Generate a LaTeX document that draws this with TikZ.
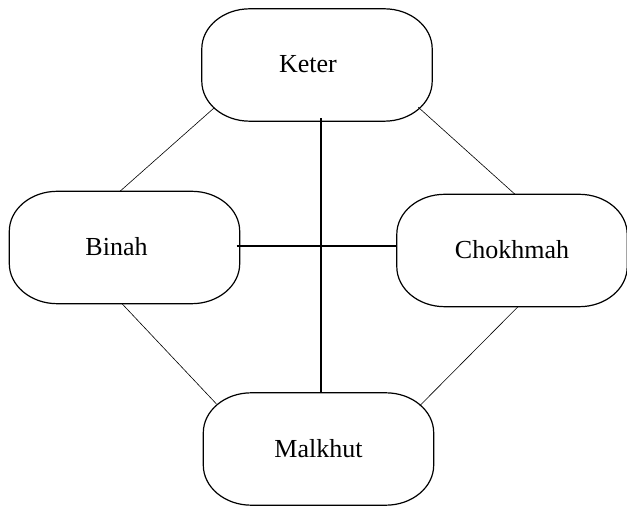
\documentclass[tikz,border=0pt]{standalone}
\usepackage{fontspec}
\setmainfont{Liberation Serif}
\usetikzlibrary{calc}
\newcommand\sefbox[1]{%
  \draw[boxline] ($(#1.north west)+(48,0)$) -- ($(#1.north east)+(-48,0)$)
    arc[start angle=90,end angle=0,x radius=48,y radius=40]
    -- ($(#1.south east)+(0,40)$)
    arc[start angle=0,end angle=-90,x radius=48,y radius=40]
    -- ($(#1.south west)+(48,0)$)
    arc[start angle=270,end angle=180,x radius=48,y radius=40]
    -- ($(#1.north west)+(0,-40)$)
    arc[start angle=180,end angle=90,x radius=48,y radius=40] -- cycle;}
\begin{document}
\begin{tikzpicture}[x=1pt,y=1pt,
  sefira/.style={minimum width=230pt, minimum height=112pt, inner sep=0pt, font=\fontsize{26}{30}\selectfont},
  boxline/.style={line width=1.2pt},
  thinlink/.style={line width=0.6pt},
  thicklink/.style={line width=2pt}]
\useasboundingbox (0,0) rectangle (627,506);
\node[sefira] (keter) at (317,441) {\hspace*{-18pt}\raisebox{3pt}{Keter}};
\node[sefira] (binah) at (124.5,258.5) {\hspace*{-16pt}\raisebox{2pt}{Binah}};
\node[sefira] (chokhmah) at (512,255.5) {\raisebox{2pt}{Chokhmah}};
\node[sefira] (malkhut) at (318.5,57) {\raisebox{-1.5pt}{Malkhut}};
\sefbox{keter}
\sefbox{binah}
\sefbox{chokhmah}
\sefbox{malkhut}
\coordinate (vx) at (321,0);
\coordinate (hy) at (0,260.3);
\draw[thicklink] ($(keter.south -| vx)+(0,3)$) -- (malkhut.north -| vx);
\draw[thicklink] ($(binah.east |- hy)+(-3,0)$) -- (chokhmah.west |- hy);
\draw[thinlink] ($(keter.south west)+(12,13)$) -- ($(binah.north)+(-4.5,0)$);
\draw[thinlink] ($(keter.south east)+(-14,14)$) -- ($(chokhmah.north)+(3,0)$);
\draw[thinlink] ($(binah.south)+(-2.5,0)$) -- ($(malkhut.north west)+(13,-11)$);
\draw[thinlink] ($(chokhmah.south)+(6,0)$) -- ($(malkhut.north east)+(-14,-13)$);
\end{tikzpicture}
\end{document}
